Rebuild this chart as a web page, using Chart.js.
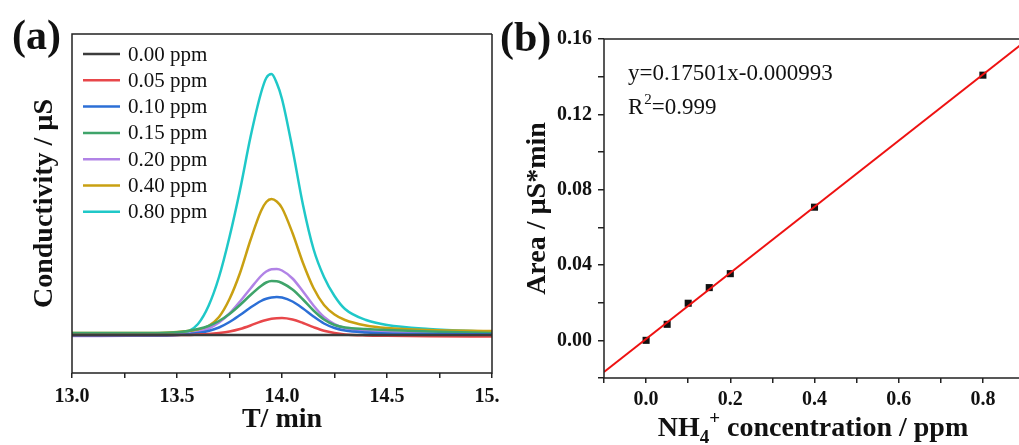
<!DOCTYPE html>
<html>
<head>
<meta charset="utf-8">
<script src="https://cdn.jsdelivr.net/npm/chart.js@4.4.1/dist/chart.umd.min.js"></script>
<style>
  html, body { margin: 0; padding: 0; background: #fff; overflow: hidden; width: 1019px; height: 445px; }
  #chartA { position: absolute; left: 0; top: 0; }
  #chartB { position: absolute; left: 500px; top: 0; }
</style>
</head>
<body>
<canvas id="chartA" width="500" height="445"></canvas>
<canvas id="chartB" width="530" height="445"></canvas>
<script>
// ---- panel (a) data: chromatograms ----
const times = [13.0, 13.4, 13.5, 13.55, 13.6, 13.65, 13.7, 13.75, 13.8, 13.85, 13.9, 13.925, 13.95, 13.975,
               14.0, 14.05, 14.1, 14.15, 14.2, 14.25, 14.3, 14.4, 14.5, 14.7, 15.0];
const seriesLabels = ["0.00 ppm", "0.05 ppm", "0.10 ppm", "0.15 ppm", "0.20 ppm", "0.40 ppm", "0.80 ppm"];
const seriesColors = ["#3c3c3c", "#e8474a", "#2c6fd6", "#3fa46a", "#b183e6", "#c9a012", "#1fc8c8"];
const ppm000 = [0, 0, 0, 0, 0, 0, 0, 0, 0, 0, 0, 0, 0, 0, 0, 0, 0, 0, 0, 0, 0, 0, 0, 0, 0];
const ppm005 = [0, 0, 0, 0, 0.005, 0.01, 0.02, 0.035, 0.06, 0.095, 0.135, 0.15, 0.162, 0.168,
                0.17, 0.155, 0.12, 0.078, 0.042, 0.02, 0.006, -0.004, -0.008, -0.012, -0.015];
const ppm010 = [-0.005, -0.005, 0, 0.008, 0.02, 0.04, 0.075, 0.13, 0.2, 0.275, 0.34, 0.362, 0.376, 0.38,
                0.375, 0.335, 0.265, 0.185, 0.115, 0.07, 0.045, 0.025, 0.015, 0.01, 0.005];
const ppm015 = [0.02, 0.02, 0.028, 0.04, 0.06, 0.09, 0.14, 0.21, 0.3, 0.4, 0.49, 0.525, 0.54, 0.538,
                0.52, 0.455, 0.355, 0.245, 0.155, 0.1, 0.075, 0.06, 0.05, 0.035, 0.02];
const ppm020 = [-0.01, -0.005, 0, 0.01, 0.03, 0.065, 0.125, 0.215, 0.335, 0.465, 0.59, 0.635, 0.658, 0.66,
                0.645, 0.565, 0.435, 0.295, 0.18, 0.11, 0.07, 0.04, 0.03, 0.015, 0.005];
const ppm040 = [0.02, 0.02, 0.03, 0.04, 0.05, 0.09, 0.18, 0.36, 0.62, 0.95, 1.24, 1.33, 1.36, 1.335,
                1.27, 1.02, 0.72, 0.47, 0.3, 0.205, 0.15, 0.095, 0.07, 0.05, 0.04];
const ppm080 = [-0.005, 0, 0.01, 0.03, 0.11, 0.29, 0.58, 0.98, 1.45, 1.98, 2.42, 2.57, 2.61, 2.52,
                2.36, 1.86, 1.3, 0.86, 0.58, 0.39, 0.26, 0.15, 0.1, 0.06, 0.03];
const curves = [ppm000, ppm005, ppm010, ppm015, ppm020, ppm040, ppm080];

// ---- panel (b) data: calibration ----
const concX = [0, 0.05, 0.10, 0.15, 0.20, 0.40, 0.80];
const areaY = [0.0000, 0.0085, 0.0197, 0.0280, 0.0354, 0.0707, 0.1408];
const fitX = [-0.1, 0.9];
const fitY = [-0.0168, 0.1587];
const fitText = "y=0.17501x-0.000993";
const r2Text = "=0.999";

const SERIF = "'Liberation Serif', 'Times New Roman', serif";
const INK = "#111";

function toPoints(xs, ys) {
  return xs.map((x, i) => ({ x: x, y: ys[i] }));
}

// box around chart area + panel letter
function framePlugin(letter, lx, ly, sides) {
  return {
    id: "frame" + letter,
    afterDraw(chart) {
      const { ctx, chartArea: a } = chart;
      ctx.save();
      ctx.strokeStyle = "#222";
      ctx.lineWidth = 1.5;
      ctx.beginPath();
      ctx.moveTo(a.right, a.top);
      ctx.lineTo(a.left, a.top);
      ctx.lineTo(a.left, a.bottom);
      ctx.lineTo(a.right, a.bottom);
      if (sides === 4) ctx.lineTo(a.right, a.top);
      ctx.stroke();
      ctx.fillStyle = INK;
      ctx.font = "bold 42px " + SERIF;
      ctx.textBaseline = "middle";
      ctx.textAlign = "left";
      ctx.fillText(letter, lx, ly);
      ctx.restore();
    }
  };
}

// legend inside panel (a)
const legendA = {
  id: "legendA",
  afterDraw(chart) {
    const ctx = chart.ctx;
    ctx.save();
    ctx.font = "21px " + SERIF;
    ctx.textBaseline = "middle";
    chart.data.datasets.forEach((ds, i) => {
      const y = 54 + i * 26.3;
      ctx.strokeStyle = ds.borderColor;
      ctx.lineWidth = 2.5;
      ctx.beginPath();
      ctx.moveTo(83, y);
      ctx.lineTo(120, y);
      ctx.stroke();
      ctx.fillStyle = INK;
      ctx.fillText(ds.label, 128, y + 1);
    });
    ctx.restore();
  }
};

new Chart(document.getElementById("chartA"), {
  type: "line",
  data: {
    datasets: curves.map((c, i) => ({
      label: seriesLabels[i],
      data: toPoints(times, c),
      borderColor: seriesColors[i],
      borderWidth: 2.5,
      pointRadius: 0,
      cubicInterpolationMode: "monotone",
      fill: false
    }))
  },
  options: {
    responsive: false,
    animation: false,
    layout: { padding: { left: 0, right: 8, top: 34, bottom: 0 } },
    plugins: { legend: { display: false }, tooltip: { enabled: false } },
    scales: {
      x: {
        type: "linear", min: 13, max: 15,
        border: { display: false },
        grid: { drawOnChartArea: false, tickLength: 5, color: "#222", lineWidth: 1.5 },
        ticks: {
          stepSize: 0.25, autoSkip: false, maxRotation: 0, padding: 7, color: INK,
          font: { family: SERIF, size: 20, weight: "bold" },
          callback: v => (Math.round(v * 4) % 2 === 0 ? v.toFixed(1) : "")
        },
        title: { display: true, text: "T/ min", color: INK, padding: { top: 0, bottom: 8 },
                 font: { family: SERIF, size: 28, weight: "bold" } },
        afterFit: s => { s.height = 72; s.paddingLeft = 0; s.paddingRight = 0; }
      },
      y: {
        min: -0.38, max: 3.01,
        border: { display: false },
        grid: { display: false },
        ticks: { display: false },
        title: { display: true, text: "Conductivity / µS", color: INK, padding: { top: 28, bottom: 0 },
                 font: { family: SERIF, size: 28, weight: "bold" } },
        afterFit: s => { s.width = 72; s.paddingTop = 0; s.paddingBottom = 0; }
      }
    }
  },
  plugins: [legendA, framePlugin("(a)", 12, 38, 4)]
});

// equation text and NH4+ axis title for panel (b)
const notesB = {
  id: "notesB",
  afterDraw(chart) {
    const ctx = chart.ctx;
    ctx.save();
    ctx.fillStyle = INK;
    ctx.textBaseline = "alphabetic";
    ctx.textAlign = "left";
    ctx.font = "23px " + SERIF;
    ctx.fillText(fitText, 128, 80);
    ctx.fillText("R", 128, 114);
    let w = ctx.measureText("R").width;
    ctx.font = "15px " + SERIF;
    ctx.fillText("2", 128 + w + 1, 104);
    w += ctx.measureText("2").width + 1;
    ctx.font = "23px " + SERIF;
    ctx.fillText(r2Text, 128 + w, 114);

    // x axis title with sub/superscript
    const big = "bold 28px " + SERIF, small = "bold 19px " + SERIF;
    const parts = [["NH", big, 0], ["4", small, 7], ["+", small, -12], [" concentration / ppm", big, 0]];
    let total = 0;
    parts.forEach(p => { ctx.font = p[1]; total += ctx.measureText(p[0]).width; });
    let x = 313 - total / 2;
    parts.forEach(p => {
      ctx.font = p[1];
      ctx.fillText(p[0], x, 436 + p[2]);
      x += ctx.measureText(p[0]).width;
    });
    ctx.restore();
  }
};

new Chart(document.getElementById("chartB"), {
  type: "scatter",
  data: {
    datasets: [
      {
        type: "line",
        label: "fit",
        data: toPoints(fitX, fitY),
        borderColor: "#ee1111",
        borderWidth: 2,
        pointRadius: 0,
        fill: false
      },
      {
        label: "area",
        data: toPoints(concX, areaY),
        pointStyle: "rect",
        pointRadius: 5,
        backgroundColor: "#111",
        borderColor: "#111",
        borderWidth: 0
      }
    ]
  },
  options: {
    responsive: false,
    animation: false,
    layout: { padding: { left: 0, right: 5, top: 39, bottom: 0 } },
    plugins: { legend: { display: false }, tooltip: { enabled: false } },
    scales: {
      x: {
        type: "linear", min: -0.1, max: 0.9,
        border: { display: false },
        grid: { drawOnChartArea: false, tickLength: 5, color: "#222", lineWidth: 1.5 },
        ticks: {
          stepSize: 0.1, autoSkip: false, maxRotation: 0, padding: 5, color: INK,
          font: { family: SERIF, size: 20, weight: "bold" },
          callback: v => {
            const k = Math.round(v * 10);
            return (k >= 0 && k % 2 === 0) ? v.toFixed(1) : "";
          }
        },
        title: { display: false },
        afterFit: s => { s.height = 67; s.paddingLeft = 0; s.paddingRight = 0; }
      },
      y: {
        min: -0.02, max: 0.16,
        border: { display: false },
        grid: { drawOnChartArea: false, tickLength: 6, color: "#222", lineWidth: 1.5 },
        ticks: {
          stepSize: 0.02, autoSkip: false, padding: 6, color: INK,
          font: { family: SERIF, size: 20, weight: "bold" },
          callback: v => {
            const k = Math.round(v * 100);
            return (k >= 0 && k % 4 === 0) ? v.toFixed(2) : "";
          }
        },
        title: { display: true, text: "Area / µS*min", color: INK, padding: { top: 21, bottom: 0 },
                 font: { family: SERIF, size: 28, weight: "bold" } },
        afterFit: s => { s.width = 104; s.paddingTop = 0; s.paddingBottom = 0; }
      }
    }
  },
  plugins: [notesB, framePlugin("(b)", 0, 40, 3)]
});
</script>
</body>
</html>
